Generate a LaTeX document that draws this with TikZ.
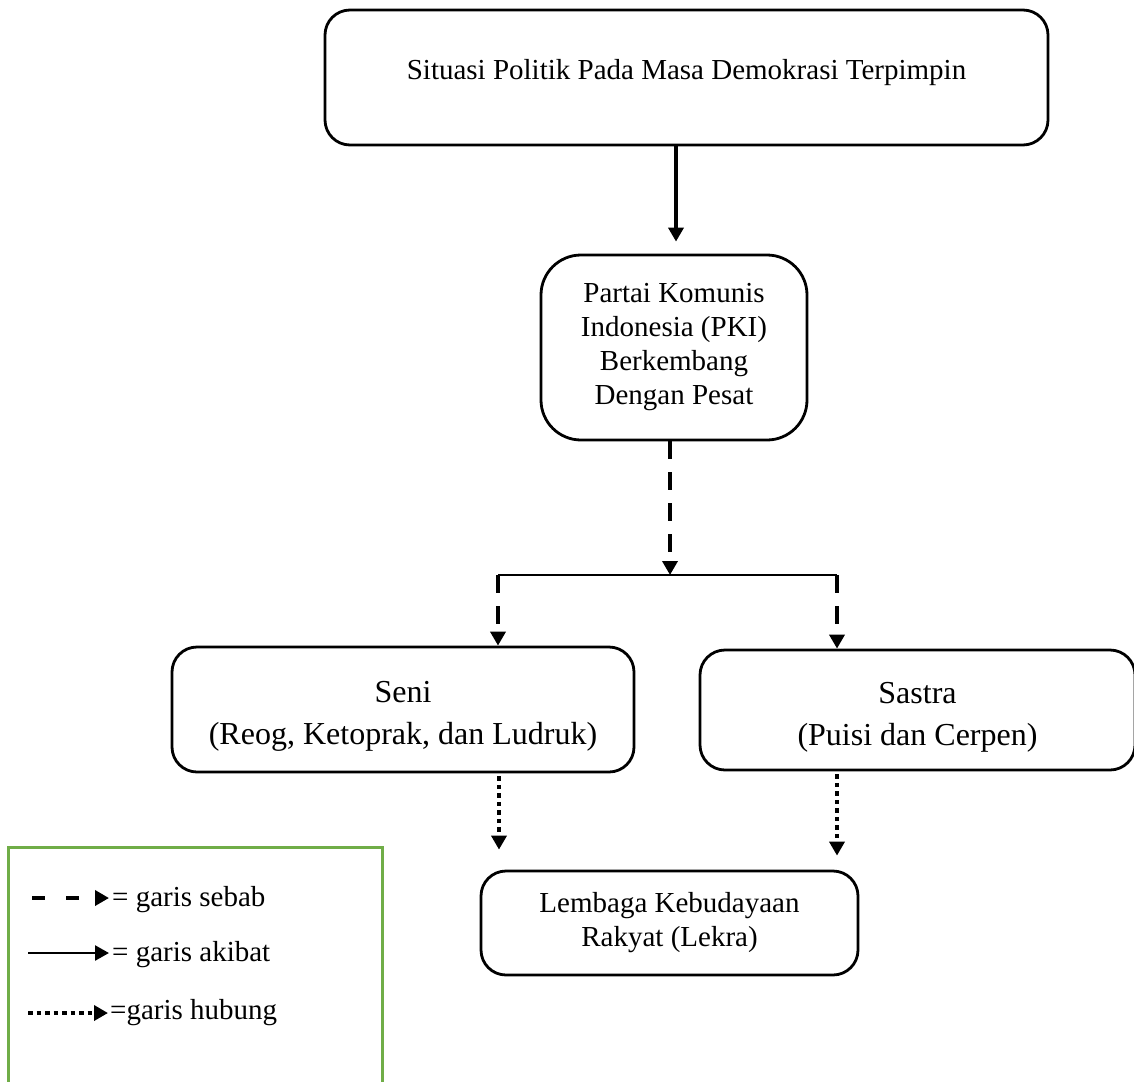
\documentclass[tikz,border=0pt]{standalone}
\usepackage{fontspec}
\setmainfont{Liberation Serif}
\usetikzlibrary{arrows.meta}
\definecolor{legendgreen}{RGB}{112,173,71}
\tikzset{
 box/.style={draw, line width=2.8pt, rounded corners=25pt, align=center, inner sep=0pt, font=\fontsize{29}{34}\selectfont},
 bigtext/.style={font=\fontsize{32}{42}\selectfont},
 tipstyle/.style={-{Triangle[length=14pt,width=15pt]}},
 causeline/.style={tipstyle, line width=4.8pt, dash pattern=on 18pt off 13pt},
 effectline/.style={tipstyle, line width=4.5pt},
 linkline/.style={tipstyle, line width=4.5pt, dash pattern=on 4.5pt off 4pt},
 legtext/.style={anchor=west, inner sep=0pt, font=\fontsize{29}{34}\selectfont},
}
\begin{document}
\begin{tikzpicture}[x=1pt,y=-1pt]
\useasboundingbox (0,0) rectangle (1134,1081);
% boxes
\node[box, minimum width=723pt, minimum height=135pt,
  label={[name=toptext, font=\fontsize{29}{34}\selectfont, yshift=5pt]center:Situasi Politik Pada Masa Demokrasi Terpimpin}] (top) at (686.5,77.5) {};
\node[box, rounded corners=40pt, minimum width=266pt, minimum height=185pt] (pki) at (674,347.5) {Partai Komunis\\Indonesia (PKI)\\Berkembang\\Dengan Pesat};
\node[box, minimum width=462pt, minimum height=125pt,
  label={[name=senitext, bigtext, align=center, yshift=-7pt]center:Seni\\(Reog, Ketoprak, dan Ludruk)}] (seni) at (403,709.5) {};
\node[box, minimum width=435pt, minimum height=120pt,
  label={[name=sastratext, bigtext, align=center, yshift=-7pt]center:Sastra\\(Puisi dan Cerpen)}] (sastra) at (917.5,710) {};
\node[box, minimum width=377pt, minimum height=104pt] (lekra) at (669.5,923) {Lembaga Kebudayaan\\Rakyat (Lekra)};
% connectors
\coordinate (ax) at (676,0);
\draw[effectline, shorten >=12pt] (top.south -| ax) -- (pki.north -| ax);
\coordinate (split) at (670,575);
\coordinate (sl) at (498,575);
\coordinate (sr) at (837,575);
\draw[causeline] (pki.south -| split) -- (split);
\draw[line width=2pt] (sl) -- (sr);
\draw[causeline] (sl) -- (seni.north -| sl);
\draw[causeline] (sr) -- (sastra.north -| sr);
\coordinate (dl) at (499,0);
\coordinate (dr) at (837,0);
\draw[linkline, shorten <=3pt, shorten >=20pt] (seni.south -| dl) -- (lekra.north -| dl);
\draw[linkline, shorten <=3pt, shorten >=14pt] (sastra.south -| dr) -- (lekra.north -| dr);
% legend
\node[draw=legendgreen, line width=3pt, minimum width=374pt, minimum height=260pt, anchor=north west, inner sep=0pt] (legend) at (7,846) {};
\node[legtext] (l1) at (112,900) {= garis sebab};
\node[legtext] (l2) at (112,955) {= garis akibat};
\node[legtext] (l3) at (110,1013) {=garis hubung};
\coordinate (s1) at (32,898);
\coordinate (s2) at (28,953);
\coordinate (s3) at (28,1013);
\draw[tipstyle, line width=4.8pt, dash pattern=on 13pt off 21pt, shorten >=3pt] (s1) -- (l1.west |- s1);
\draw[tipstyle, line width=2.5pt, shorten >=3pt] (s2) -- (l2.west |- s2);
\draw[tipstyle, line width=4.5pt, dash pattern=on 4.5pt off 4pt, shorten >=2pt] (s3) -- (l3.west |- s3);
\end{tikzpicture}
\end{document}
